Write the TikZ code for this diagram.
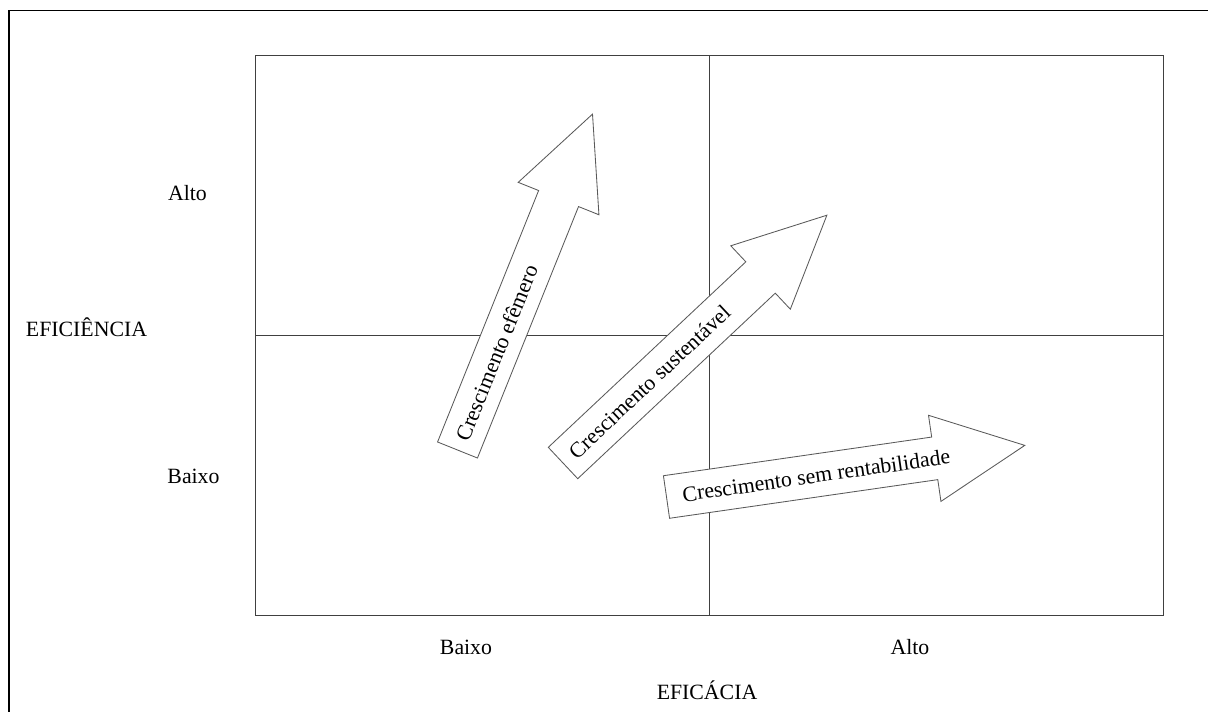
\documentclass[tikz,border=0pt]{standalone}
\usepackage{fontspec}
\setmainfont{Liberation Serif}
\usepackage{tikz}
\usetikzlibrary{calc}
\tikzstyle{moldura} = [line width=1.4pt, draw=black]
\tikzstyle{quadro} = [line width=0.6pt, draw=black!75]
\tikzstyle{seta} = [line width=0.6pt, draw=black!65, fill=white]
\tikzstyle{rotulo} = [inner sep=0pt, anchor=base, font=\fontsize{15.5}{18}\selectfont]
\tikzstyle{texto} = [inner sep=0pt, anchor=west, font=\fontsize{15.5}{18}\selectfont]

\begin{document}
\begin{tikzpicture}[x=0.025cm, y=0.025cm]
				\clip (0,0) rectangle (1208,711);
				\draw[moldura] (9,700.5) rectangle (1240,-30);
				% quadrantes
				\draw[quadro] (255,96) rectangle (1163,656);
				\draw[quadro] (709,96) -- (709,656);
				\draw[quadro] (255,376) -- (1163,376);
				% eixos
				\node[rotulo] (altoy) at (187.5,510) {Alto};
				\node[rotulo] (baixoy) at (193.5,228) {Baixo};
				\node[rotulo] (eficiencia) at (86.5,374) {EFICIÊNCIA};
				\node[rotulo] (baixox) at (466,57) {Baixo};
				\node[rotulo] (altox) at (910,57) {Alto};
				\node[rotulo] (eficacia) at (707,12) {EFICÁCIA};
				% setas
				\coordinate (t1) at (457.5,261);
				\coordinate (t2) at (563,248);
				\coordinate (t3) at (666.5,214);
				\draw[seta, shift={(t1)}, rotate=68.1] (0,-21.5) -- (271,-21.5) -- (271,-43.5) -- (362,0) -- (271,43.5) -- (271,21.5) -- (0,21.5) -- cycle;
				\draw[seta, shift={(t2)}, rotate=43.2] (0,-21.5) -- (271,-21.5) -- (271,-43.5) -- (362,0) -- (271,43.5) -- (271,21.5) -- (0,21.5) -- cycle;
				\draw[seta, shift={(t3)}, rotate=8.2] (0,-21.5) -- (271,-21.5) -- (271,-43.5) -- (362,0) -- (271,43.5) -- (271,21.5) -- (0,21.5) -- cycle;
				\node[texto, rotate=68.1] (efemero) at ($(t1)+(68.1:11)$) {Crescimento efêmero};
				\node[texto, rotate=43.2] (sustentavel) at ($(t2)+(43.2:12)$) {Crescimento sustentável};
				\node[texto, rotate=8.2] (semrent) at ($(t3)+(8.2:16)$) {Crescimento sem rentabilidade};
\end{tikzpicture}
\end{document}
